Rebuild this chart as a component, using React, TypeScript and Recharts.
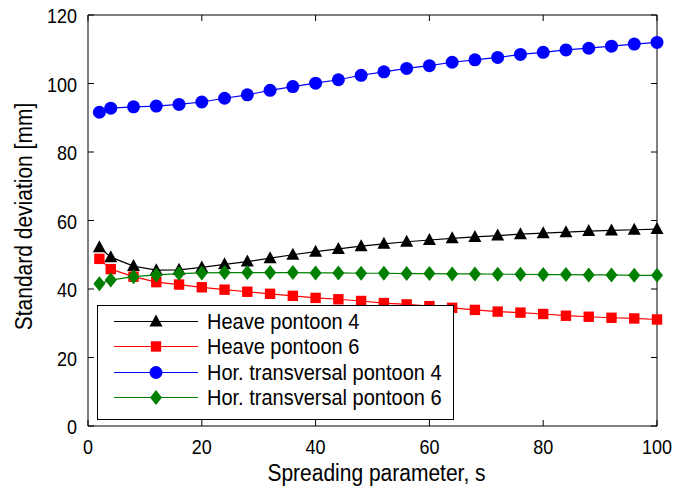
import { LineChart, Line, XAxis, YAxis, Legend, ReferenceLine, Label } from 'recharts'

// spreading parameter s
const spreading = [2, 4, 8, 12, 16, 20, 24, 28, 32, 36, 40, 44, 48, 52, 56, 60, 64, 68, 72, 76, 80, 84, 88, 92, 96, 100]

// standard deviation [mm]
const heavePontoon4 = [52.2, 49.3, 46.7, 45.5, 45.6, 46.3, 47.2, 48.0, 49.0, 50.0, 50.9, 51.7, 52.5, 53.2, 53.8, 54.3, 54.8, 55.2, 55.6, 56.0, 56.3, 56.6, 56.9, 57.1, 57.3, 57.5]
const heavePontoon6 = [48.8, 45.8, 43.6, 42.0, 41.3, 40.5, 39.8, 39.2, 38.6, 38.0, 37.4, 37.0, 36.5, 35.9, 35.5, 35.0, 34.5, 33.9, 33.4, 33.1, 32.7, 32.2, 31.9, 31.6, 31.4, 31.1]
const horTransPontoon4 = [91.6, 92.8, 93.2, 93.4, 93.9, 94.6, 95.7, 96.7, 98.0, 99.1, 100.1, 101.1, 102.4, 103.4, 104.4, 105.2, 106.2, 106.9, 107.6, 108.5, 109.1, 109.8, 110.3, 110.9, 111.5, 112.0]
const horTransPontoon6 = [41.5, 42.6, 43.6, 44.1, 44.5, 44.7, 44.8, 44.8, 44.8, 44.8, 44.7, 44.7, 44.6, 44.6, 44.5, 44.5, 44.4, 44.4, 44.3, 44.3, 44.2, 44.2, 44.1, 44.1, 44.0, 44.0]

const xTicks = [0, 20, 40, 60, 80, 100]
const yTicks = [0, 20, 40, 60, 80, 100, 120]
const seriesNames = ['Heave pontoon 4', 'Heave pontoon 6', 'Hor. transversal pontoon 4', 'Hor. transversal pontoon 6']

const data = spreading.map((s, i) => ({
  s,
  heave4: heavePontoon4[i],
  heave6: heavePontoon6[i],
  hor4: horTransPontoon4[i],
  hor6: horTransPontoon6[i],
}))

type Shape = 'triangle' | 'square' | 'circle' | 'diamond'

const series: { key: string; name: string; color: string; shape: Shape }[] = [
  { key: 'heave4', name: seriesNames[0], color: '#000000', shape: 'triangle' },
  { key: 'heave6', name: seriesNames[1], color: '#ff0000', shape: 'square' },
  { key: 'hor4', name: seriesNames[2], color: '#0000ff', shape: 'circle' },
  { key: 'hor6', name: seriesNames[3], color: '#008000', shape: 'diamond' },
]

const W = 692
const H = 491
const MARGIN = { top: 15, right: 35, left: 0, bottom: 0 }
const Y_AXIS_W = 88
const X_AXIS_H = 65
const PLOT_W = W - MARGIN.left - MARGIN.right - Y_AXIS_W
const PLOT_H = H - MARGIN.top - MARGIN.bottom - X_AXIS_H
const TICK_LEN = 6
const FONT = '"Liberation Sans", Arial, Helvetica, sans-serif'
// glyphs are drawn a little taller than wide
const STRETCH = 1.12

function Marker({ cx, cy, shape, color }: { cx: number; cy: number; shape: Shape; color: string }) {
  switch (shape) {
    case 'triangle':
      return <polygon points={`${cx},${cy - 7} ${cx + 6.5},${cy + 5} ${cx - 6.5},${cy + 5}`} fill={color} />
    case 'square':
      return <rect x={cx - 5.2} y={cy - 5.2} width={10.4} height={10.4} fill={color} />
    case 'circle':
      return <circle cx={cx} cy={cy} r={6.5} fill={color} />
    default:
      return <polygon points={`${cx},${cy - 7.5} ${cx + 6},${cy} ${cx},${cy + 7.5} ${cx - 6},${cy}`} fill={color} />
  }
}

const renderDot = (shape: Shape, color: string) => (props: any) => {
  if (props.cx == null || props.cy == null) return <g key={`${shape}-${props.index}`} />
  return <Marker key={`${shape}-${props.index}`} cx={props.cx} cy={props.cy} shape={shape} color={color} />
}

function TallText({ x, y, anchor, size, rotate = 0, children }: any) {
  return (
    <text
      transform={`translate(${x}, ${y}) rotate(${rotate}) scale(1, ${STRETCH})`}
      textAnchor={anchor}
      fontSize={size}
      fontFamily={FONT}
      fill="#000"
    >
      {children}
    </text>
  )
}

// bottom axis: label below, inward ticks at bottom and top edges
function XTick({ x, y, payload }: any) {
  return (
    <g>
      <line x1={x} y1={y} x2={x} y2={y - TICK_LEN} stroke="#000" />
      <line x1={x} y1={y - PLOT_H} x2={x} y2={y - PLOT_H + TICK_LEN} stroke="#000" />
      <TallText x={x} y={y + 28} anchor="middle" size={18}>
        {payload.value}
      </TallText>
    </g>
  )
}

// left axis: label to the left, inward ticks at left and right edges
function YTick({ x, y, payload }: any) {
  return (
    <g>
      <line x1={x} y1={y} x2={x + TICK_LEN} y2={y} stroke="#000" />
      <line x1={x + PLOT_W} y1={y} x2={x + PLOT_W - TICK_LEN} y2={y} stroke="#000" />
      <TallText x={x - 11} y={y + 8} anchor="end" size={18}>
        {payload.value}
      </TallText>
    </g>
  )
}

function XTitle({ viewBox }: any) {
  return (
    <TallText x={viewBox.x + viewBox.width / 2 + 4} y={viewBox.y + viewBox.height - 10} anchor="middle" size={21}>
      Spreading parameter, s
    </TallText>
  )
}

function YTitle({ viewBox }: any) {
  return (
    <TallText x={32} y={viewBox.y + viewBox.height / 2 - 4} anchor="middle" size={21} rotate={-90}>
      Standard deviation [mm]
    </TallText>
  )
}

function LegendBox() {
  return (
    <div
      style={{
        width: 357,
        height: 115,
        boxSizing: 'border-box',
        border: '1px solid #000',
        background: '#fff',
        fontFamily: FONT,
        fontSize: 20,
        paddingTop: 3,
        color: '#000',
      }}
    >
      {series.map((s) => (
        <div key={s.key} style={{ display: 'flex', alignItems: 'center', height: 25.3 }}>
          <svg width={109} height={25} style={{ display: 'block', flex: 'none' }}>
            <line x1={16} x2={100} y1={12.5} y2={12.5} stroke={s.color} strokeWidth={1.2} />
            <Marker cx={58} cy={12.5} shape={s.shape} color={s.color} />
          </svg>
          <span
            style={{
              display: 'inline-block',
              whiteSpace: 'nowrap',
              lineHeight: '25px',
              transform: `scaleY(${STRETCH})`,
            }}
          >
            {s.name}
          </span>
        </div>
      ))}
    </div>
  )
}

export default function App() {
  return (
    <div style={{ position: 'absolute', left: 0, top: 0, background: '#fff' }}>
      <LineChart width={W} height={H} data={data} margin={MARGIN}>
        <XAxis
          dataKey="s"
          type="number"
          domain={[0, 100]}
          ticks={xTicks}
          height={X_AXIS_H}
          axisLine={{ stroke: '#000' }}
          tickLine={false}
          tickSize={0}
          tickMargin={0}
          tick={<XTick />}
          interval={0}
        >
          <Label content={<XTitle />} />
        </XAxis>
        <YAxis
          type="number"
          domain={[0, 120]}
          ticks={yTicks}
          width={Y_AXIS_W}
          axisLine={{ stroke: '#000' }}
          tickLine={false}
          tickSize={0}
          tickMargin={0}
          tick={<YTick />}
          interval={0}
        >
          <Label content={<YTitle />} />
        </YAxis>
        <ReferenceLine y={120} stroke="#000" />
        <ReferenceLine x={100} stroke="#000" />
        {series.map((s) => (
          <Line
            key={s.key}
            dataKey={s.key}
            name={s.name}
            type="linear"
            stroke={s.color}
            strokeWidth={1.2}
            dot={renderDot(s.shape, s.color)}
            activeDot={false}
            isAnimationActive={false}
          />
        ))}
        <Legend
          layout="vertical"
          align="center"
          verticalAlign="middle"
          content={<LegendBox />}
          wrapperStyle={{ left: 97, top: 305, width: 357, height: 115 }}
        />
      </LineChart>
    </div>
  )
}
